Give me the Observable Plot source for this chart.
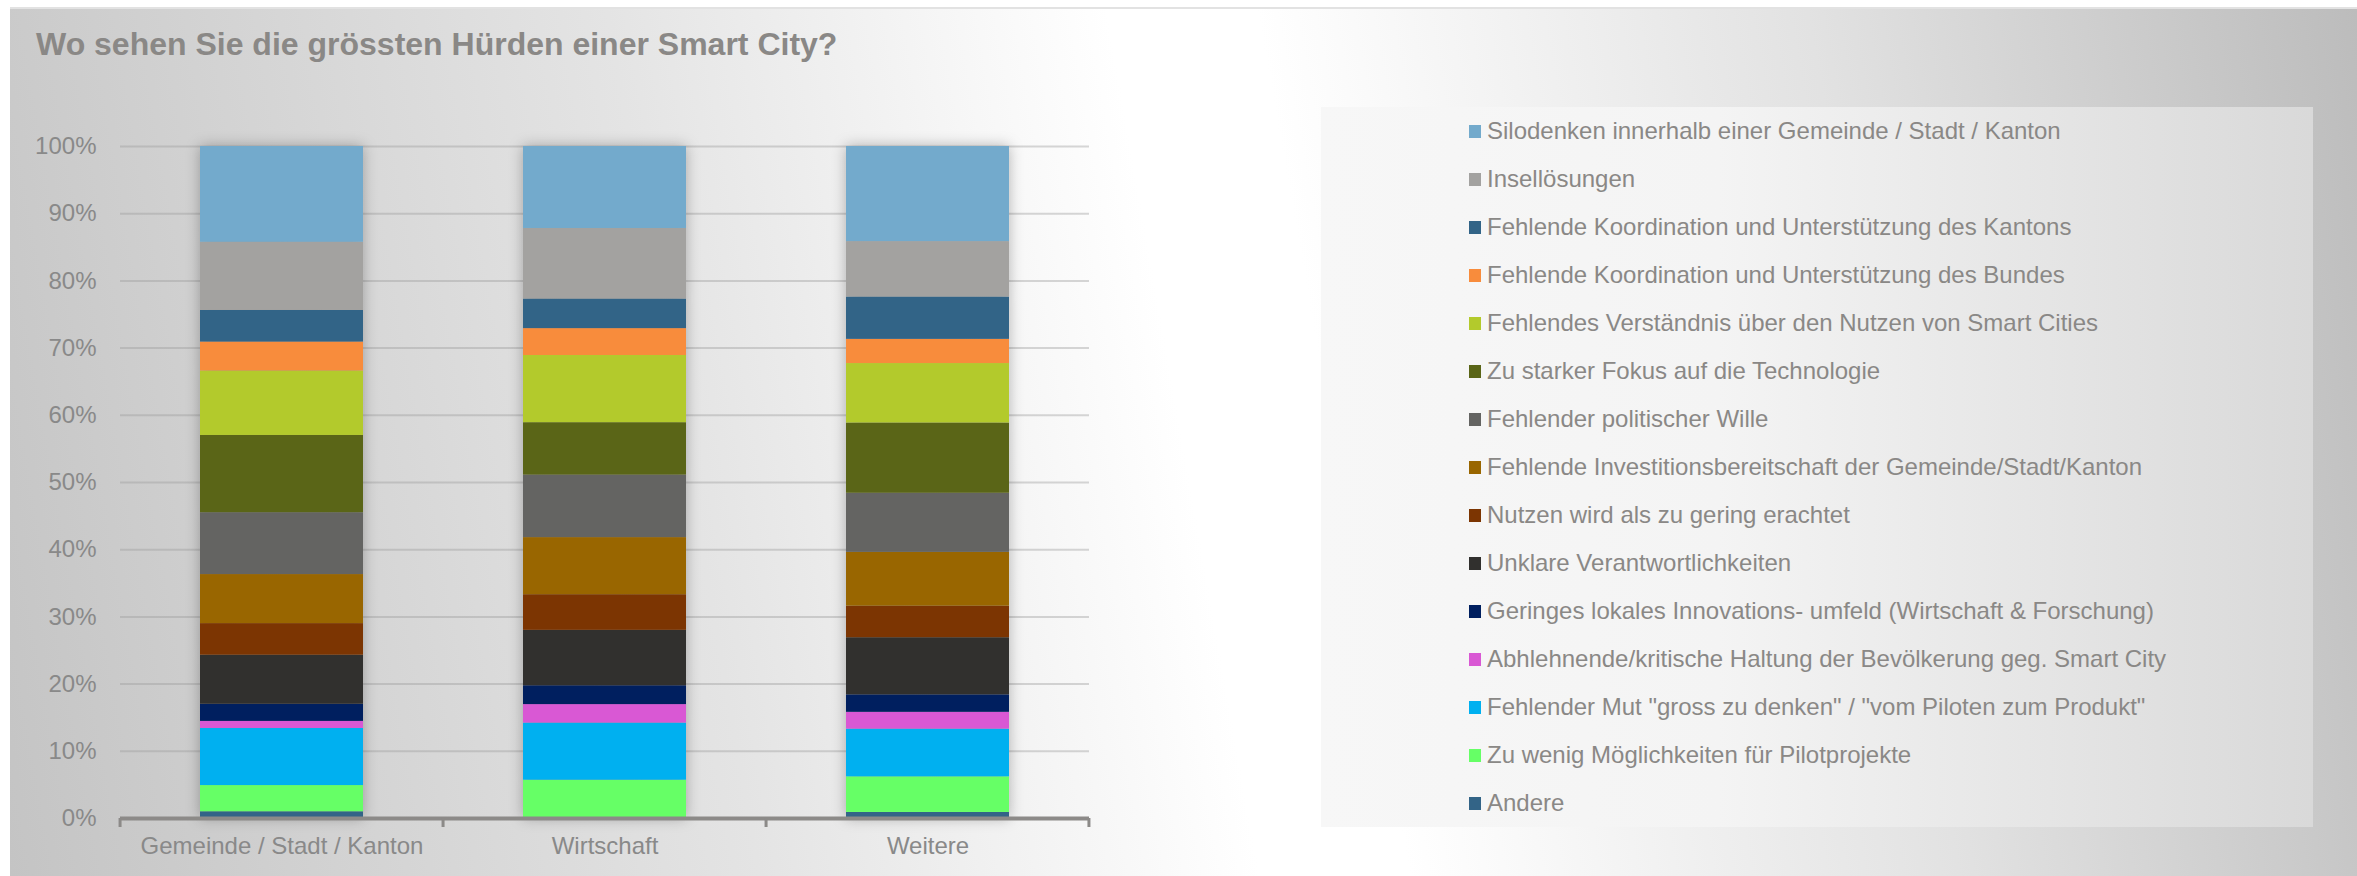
<!DOCTYPE html>
<html>
<head>
<meta charset="utf-8">
<script src="https://cdn.jsdelivr.net/npm/d3@7"></script>
<script src="https://cdn.jsdelivr.net/npm/@observablehq/plot@0.6"></script>
<style>
  html, body { margin: 0; padding: 0; background: #ffffff; width: 2357px; height: 876px; overflow: hidden; }
  body { font-family: "Liberation Sans", Arial, sans-serif; position: relative; }
  #bg { position: absolute; left: 10px; top: 7px; width: 2347px; height: 869px;
        border-top: 2px solid #e2e2e2;
        background: linear-gradient(80deg, #c4c4c4 0%, #e4e4e4 30%, #ffffff 50%, #ffffff 56%, #e2e2e2 78%, #bcbcbc 100%); }
  #title { position: absolute; left: 36px; top: 28px; font-size: 32px; line-height: 32px; font-weight: bold; color: #8a8886; white-space: nowrap; }
  #chart { position: absolute; left: 0; top: 0; }
  #legend { position: absolute; left: 1321px; top: 107px; width: 992px; height: 720px;
            background: linear-gradient(90deg, #f7f7f7 0%, #f4f4f4 40%, #d9d9d9 100%); }
  .item { position: absolute; left: 148px; height: 28px; display: flex; align-items: center; font-size: 24px; color: #8a8886; white-space: nowrap; }
  .sw { width: 12px; height: 13px; margin-right: 6px; flex: none; }
</style>
</head>
<body>
<div id="bg"></div>
<div id="chart"></div>
<div id="title">Wo sehen Sie die grössten Hürden einer Smart City?</div>
<div id="legend"></div>
<script>
// Categories (x axis)
const categories = ["Gemeinde / Stadt / Kanton", "Wirtschaft", "Weitere"];

// Series in legend order (top of stack first)
const series = [
  "Silodenken innerhalb einer Gemeinde / Stadt / Kanton",
  "Insellösungen",
  "Fehlende Koordination und Unterstützung des Kantons",
  "Fehlende Koordination und Unterstützung des Bundes",
  "Fehlendes Verständnis über den Nutzen von Smart Cities",
  "Zu starker Fokus auf die Technologie",
  "Fehlender politischer Wille",
  "Fehlende Investitionsbereitschaft der Gemeinde/Stadt/Kanton",
  "Nutzen wird als zu gering erachtet",
  "Unklare Verantwortlichkeiten",
  "Geringes lokales Innovations- umfeld (Wirtschaft & Forschung)",
  "Abhlehnende/kritische Haltung der Bevölkerung geg. Smart City",
  "Fehlender Mut \"gross zu denken\" / \"vom Piloten zum Produkt\"",
  "Zu wenig Möglichkeiten für Pilotprojekte",
  "Andere"
];

const colors = [
  "#73aacc", "#a3a2a0", "#326487", "#f88c3c", "#b3ca2c",
  "#5a6517", "#646462", "#996600", "#7c3502", "#31302e",
  "#001f5f", "#d958d4", "#00b0f0", "#66ff66", "#336487"
];

// Percent values per category, in legend order
const valuesGemeinde   = [14.25, 10.15, 4.7, 4.3, 9.6, 11.5, 9.2, 7.3, 4.7, 7.3, 2.55, 1.05, 8.5, 3.9, 1.0];
const valuesWirtschaft = [12.2, 10.5, 4.4, 4.0, 10.0, 7.8, 9.3, 8.5, 5.3, 8.25, 2.8, 2.75, 8.5, 5.7, 0];
const valuesWeitere    = [14.15, 8.25, 6.3, 3.6, 8.85, 10.45, 8.8, 8.0, 4.7, 8.5, 2.6, 2.5, 7.1, 5.3, 0.9];

const yTicks = [0, 10, 20, 30, 40, 50, 60, 70, 80, 90, 100];

// Build long table, bottom-up stacking order (Andere first)
const valueSets = [valuesGemeinde, valuesWirtschaft, valuesWeitere];
const data = [];
categories.forEach((c, ci) => {
  for (let si = series.length - 1; si >= 0; si--) {
    data.push({category: c, series: series[si], value: valueSets[ci][si]});
  }
});

const textColor = "#898989";
const pi = 0.495;

const plot = Plot.plot({
  width: 1100,
  height: 876,
  marginLeft: 120,
  marginRight: 11,
  marginTop: 146,
  marginBottom: 58,
  style: {background: "transparent", fontFamily: "'Liberation Sans', Arial, sans-serif", fontSize: "24px", color: textColor, overflow: "visible"},
  x: {domain: categories, paddingInner: pi, paddingOuter: pi / 2, align: 0.5},
  y: {domain: [0, 100]},
  color: {domain: series, range: colors},
  marks: [
    Plot.gridY(yTicks, {stroke: "#9a9a9a", strokeOpacity: 0.4, strokeWidth: 2}),
    Plot.axisY(yTicks, {tickSize: 0, tickPadding: 24, tickFormat: d => d + "%", fill: textColor, fontSize: 24, label: null}),
    Plot.barY(data, {x: "category", y: "value", fill: "series"}),
    Plot.ruleY([0], {stroke: "#8c8a88", strokeWidth: 4}),
    Plot.axisX({tickSize: 0, tickPadding: 18, fill: textColor, fontSize: 24, label: null})
  ]
});

// soft shadow around bars
d3.select(plot).selectAll('g[aria-label="bar"]').style("filter", "drop-shadow(0px 0px 7px rgba(0,0,0,0.28))");

// boundary tick marks on the category axis, from the library's x scale
const xs = plot.scale("x");
const ysc = plot.scale("y");
const step = xs.step;
const y0 = ysc.apply(0);
const bounds = categories.map(c => xs.apply(c) - step * pi / 2);
bounds.push(xs.apply(categories[categories.length - 1]) + xs.bandwidth + step * pi / 2);
const tg = d3.select(plot).append("g");
bounds.forEach(b => {
  tg.append("line").attr("x1", b).attr("x2", b).attr("y1", y0).attr("y2", y0 + 9)
    .attr("stroke", "#8c8a88").attr("stroke-width", 3);
});

document.getElementById("chart").appendChild(plot);

// Legend
const legend = document.getElementById("legend");
series.forEach((s, i) => {
  const item = document.createElement("div");
  item.className = "item";
  item.style.top = (24 + i * 48 - 14) + "px";
  const sw = document.createElement("span");
  sw.className = "sw";
  sw.style.background = colors[i];
  const t = document.createElement("span");
  t.textContent = s;
  item.appendChild(sw);
  item.appendChild(t);
  legend.appendChild(item);
});
</script>
</body>
</html>
